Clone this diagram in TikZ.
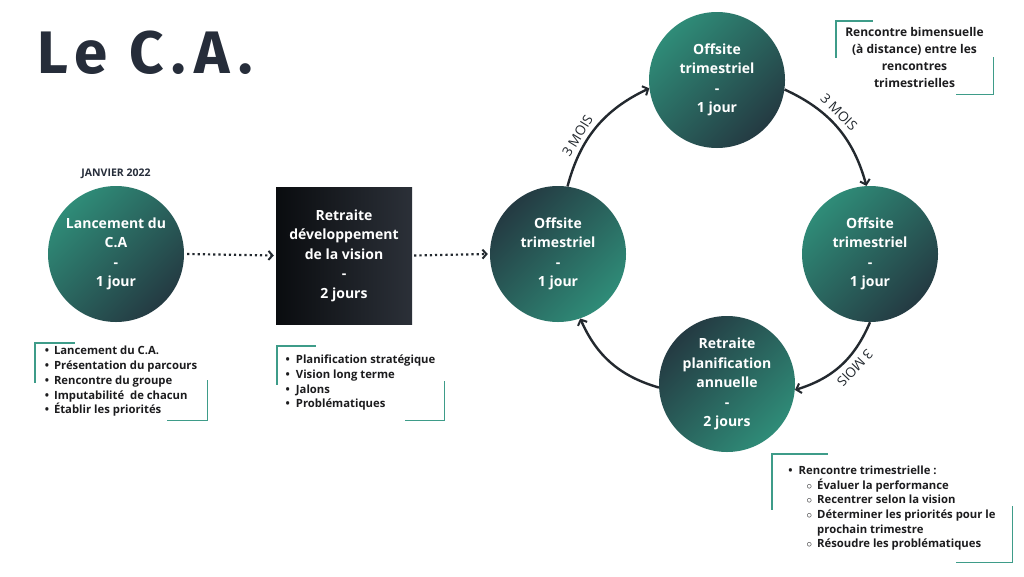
\documentclass[tikz,border=0pt]{standalone}
\usepackage{fontspec}
\setmainfont{Open Sans}
\newfontfamily\titrefont{Fira Sans}[LetterSpace=13]
\usetikzlibrary{arrows.meta}

\definecolor{tealL}{HTML}{2F8C78}
\definecolor{tealD}{HTML}{243A42}
\definecolor{noirG}{HTML}{0A0C0F}
\definecolor{noirD}{HTML}{2B3038}
\definecolor{encre}{HTML}{1C1C1E}
\definecolor{titre}{HTML}{262D3A}
\definecolor{fleche}{HTML}{23292F}
\definecolor{coin}{HTML}{3E9C89}

\tikzset{
  etape/.style={circle, minimum size=136pt, inner sep=0pt, align=center, text=white,
    font=\fontsize{14}{19.5}\selectfont\bfseries},
  clairHaut/.style={top color=tealL, bottom color=tealD, shading angle=45},
  fonceHaut/.style={top color=tealD, bottom color=tealL, shading angle=45},
  retraite/.style={rectangle, minimum width=136pt, minimum height=137pt, inner sep=0pt,
    left color=noirG, right color=noirD, align=center, text=white,
    font=\fontsize{14}{19.5}\selectfont\bfseries},
  notes/.style={inner sep=0pt, text=encre, font=\fontsize{11.3}{14.7}\selectfont\bfseries},
  coinTrait/.style={draw=coin, line width=1.4pt},
  pointille/.style={draw=fleche, line width=2.2pt, dash pattern=on 2.2pt off 3pt,
    -{Straight Barb[length=4pt, width=9pt, line width=2pt]}},
  boucle/.style={draw=fleche, line width=2.4pt, bend left=25,
    -{Straight Barb[length=4.5pt, width=10pt, line width=2pt]}},
  mois/.style={sloped, above, inner sep=5.5pt, text=fleche, font=\fontsize{13.5}{13.5}\selectfont}
}

\newcommand\coins[2]{%
  \draw[coinTrait] ([xshift=#2]#1.north west) -- (#1.north west) -- ([yshift=-#2]#1.north west);
  \draw[coinTrait] ([xshift=-#2]#1.south east) -- (#1.south east) -- ([yshift=#2]#1.south east);}

\begin{document}
\begin{tikzpicture}[x=1pt, y=1pt]
  \useasboundingbox[fill=white] (0,0) rectangle (1024,-576);

  \node[anchor=base west, inner sep=0pt, text=titre, font=\titrefont\fontsize{60}{60}\selectfont\bfseries]
    (titreCA) at (37,-73) {Le C.A.};

  \node[font=\fontsize{10.5}{12}\selectfont\bfseries, text=titre] (janvier) at (116,-174) {JANVIER 2022};

  \node[etape, clairHaut] (lancement) at (116,-254) {Lancement du\\C.A\\-\\1 jour};
  \node[retraite] (retraiteVision) at (344,-255.5) {Retraite\\développement\\de la vision\\-\\2 jours};
  \node[etape, fonceHaut] (offsiteA) at (558,-254) {Offsite\\trimestriel\\-\\1 jour};
  \node[etape, clairHaut] (offsiteB) at (717,-80) {Offsite\\trimestriel\\-\\1 jour};
  \node[etape, clairHaut] (offsiteC) at (870,-254) {Offsite\\trimestriel\\-\\1 jour};
  \node[etape, fonceHaut] (retraiteAnnuelle) at (727,-384)
    {Retraite\\planification\\annuelle\\-\\2 jours};

  \draw[pointille] ([xshift=3]lancement.east) -- ([xshift=-2]retraiteVision.west);
  \draw[pointille] ([xshift=2]retraiteVision.east) -- ([xshift=-2]offsiteA.west);

  \draw[boucle] (offsiteA.82) to node[mois, pos=0.36, inner sep=4pt] {3 MOIS} (offsiteB.187);
  \draw[boucle] (offsiteB.352) to node[mois, pos=0.42] {3 MOIS} (offsiteC.93);
  \draw[boucle] (offsiteC.270) to node[mois, pos=0.42, allow upside down] {3 MOIS} (retraiteAnnuelle.355);
  \draw[boucle] (retraiteAnnuelle.183) to (offsiteA.289);

  \node[notes, minimum width=172pt, minimum height=77pt] (notesLancement) at (121,-381.5) {
    \begin{tabular}{@{}l@{\hspace{5pt}}l@{}}
      • & Lancement du C.A.\\
      • & Présentation du parcours\\
      • & Rencontre du groupe\\
      • & Imputabilité~ de chacun\\
      • & Établir les priorités
    \end{tabular}
  };
  \coins{notesLancement}{40}

  \node[notes, minimum width=167pt, minimum height=74pt] (notesVision) at (360.5,-383) {
    \begin{tabular}{@{}l@{\hspace{6pt}}l@{}}
      • & Planification stratégique\\
      • & Vision long terme\\
      • & Jalons\\
      • & Problématiques
    \end{tabular}
  };
  \coins{notesVision}{39}

  \node[notes, minimum width=157pt, minimum height=73pt, align=center,
    font=\fontsize{12}{17}\selectfont\bfseries] (notesBimensuelle) at (914.5,-57.5)
    {Rencontre bimensuelle\\(à distance) entre les\\rencontres\\trimestrielles};
  \coins{notesBimensuelle}{37}

  \node[notes, minimum width=240pt, minimum height=108pt] (notesTrimestre) at (892,-508) {
    \begin{tabular}{@{}l@{\hspace{6pt}}l@{\hspace{5pt}}l@{}}
      • & \multicolumn{2}{@{}l@{}}{Rencontre trimestrielle :}\\
        & \hspace{8pt}$\circ$ & Évaluer la performance\\
        & \hspace{8pt}$\circ$ & Recentrer selon la vision\\
        & \hspace{8pt}$\circ$ & Déterminer les priorités pour le\\
        & & prochain trimestre\\
        & \hspace{8pt}$\circ$ & Résoudre les problématiques
    \end{tabular}
  };
  \coins{notesTrimestre}{56}
\end{tikzpicture}
\end{document}
